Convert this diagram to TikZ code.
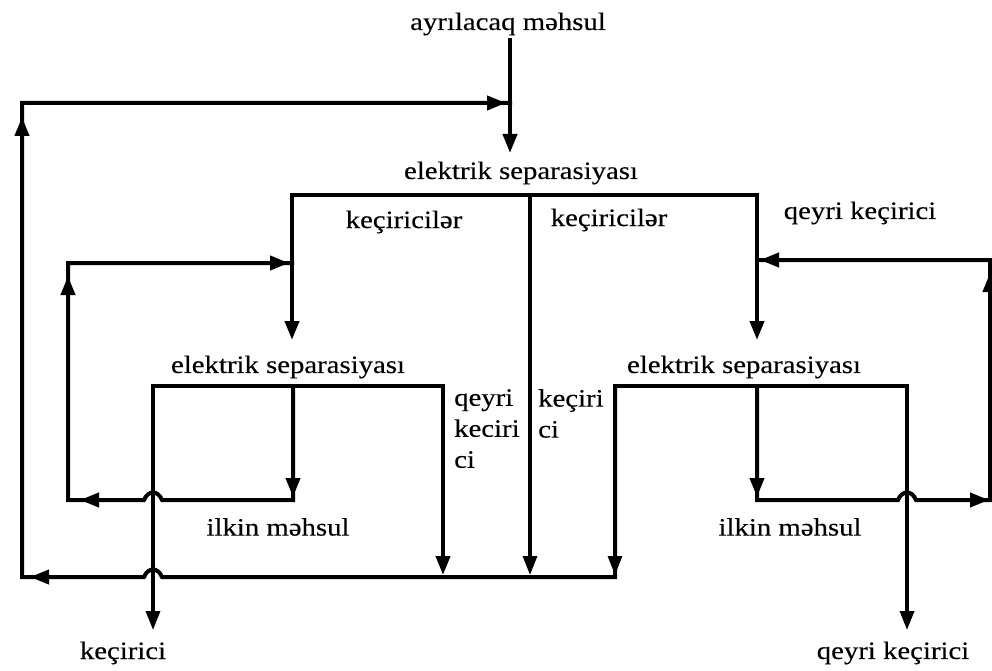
\documentclass[tikz,border=0pt]{standalone}
\usepackage{fontspec}
\setmainfont{Liberation Serif}[FakeStretch=1.15,FakeBold=0.25]
\usetikzlibrary{arrows.meta}

\begin{document}
\begin{tikzpicture}[x=1pt,y=-1pt,
  flow/.style={line width=4pt, line cap=rect, line join=miter},
  tip/.style={-{Triangle[length=19pt,width=14pt]}},
  lbl/.style={inner sep=0pt, font=\fontsize{25}{31}\selectfont},
]
\fill[white] (0,0) rectangle (992,671);
\useasboundingbox (0,0) rectangle (992,671);

% ---- text labels ----
\node[lbl] (feed) at (508,24) {ayrılacaq məhsul};
\node[lbl] (sepA) at (521,173) {elektrik separasiyası};
\node[lbl] (sepB) at (288,367) {elektrik separasiyası};
\node[lbl] (sepC) at (744,367) {elektrik separasiyası};
\node[lbl] (kA) at (404,222) {keçiricilər};
\node[lbl] (kB) at (609,220) {keçiricilər};
\node[lbl] (qA) at (860,213) {qeyri keçirici};
\node[lbl, align=left, anchor=north west] (qB) at (454,389) {qeyri\\keciri\\ci};
\node[lbl, align=left, anchor=north west] (kC) at (538,389) {keçiri\\ci};
\node[lbl] (pA) at (278,527) {ilkin məhsul};
\node[lbl] (pB) at (790,527) {ilkin məhsul};
\node[lbl] (oA) at (123,653) {keçirici};
\node[lbl] (oB) at (893,653) {qeyri keçirici};

% ---- junction points ----
\coordinate (f1) at (510,40);
\coordinate (f2) at (510,153);
\coordinate (aL) at (292,195);
\coordinate (aM) at (530,195);
\coordinate (aR) at (757,195);
\coordinate (bL) at (153,386);
\coordinate (bM) at (293,386);
\coordinate (bR) at (443,386);
\coordinate (cL) at (615,386);
\coordinate (cM) at (757,386);
\coordinate (cR) at (907,386);
\coordinate (oBR) at (615,577);
\coordinate (oBL) at (22,577);
\coordinate (oTL) at (22,103);
\coordinate (oTR) at (510,103);
\coordinate (lTop) at (292,263);
\coordinate (lTL) at (68,263);
\coordinate (lBL) at (68,500);
\coordinate (lBR) at (293,500);
\coordinate (rBL) at (757,500);
\coordinate (rBR) at (990,500);
\coordinate (rTR) at (990,260);
\coordinate (rTop) at (757,260);

% ---- feed ----
\draw[flow,tip] (f1) -- (f2);

% ---- first separator ----
\draw[flow] (aL) -- (aR);
\draw[flow,tip] (aL) -- (292,340);
\draw[flow,tip] (aR) -- (757,340);
\draw[flow,tip,line width=3.2pt] (aM) -- (530,575);

% ---- second separator (left) ----
\draw[flow] (bL) -- (bR);
\draw[flow,tip] (bR) -- (443,575);
\draw[flow,tip,line width=3.4pt] (bL) -- (153,630);
\draw[flow] (bM) -- (lBR) -- (162,500) .. controls (158,490) and (148,490) .. (144,500)
  -- (lBL) -- (lTL) -- (lTop);
\draw[flow,tip] (293,470) -- (293,497);
\draw[flow,tip] (112,500) -- (80,500);
\draw[flow,tip] (68,312) -- (68,276);
\draw[flow,tip] (250,263) -- (289,263);

% ---- third separator (right) ----
\draw[flow] (cL) -- (cR);
\draw[flow,tip,line width=3.4pt] (cR) -- (907,630);
\draw[flow] (cM) -- (rBL) -- (898,500) .. controls (902,490) and (912,490) .. (916,500)
  -- (rBR) -- (rTR) -- (rTop);
\draw[flow,tip] (757,470) -- (757,497);
\draw[flow,tip] (955,500) -- (989,500);
\draw[flow,tip] (990,312) -- (990,273);
\draw[flow,tip] (800,260) -- (760,260);

% ---- return line to the feed ----
\draw[flow] (cL) -- (oBR) -- (162,577) .. controls (158,567) and (148,567) .. (144,577)
  -- (oBL) -- (oTL) -- (oTR);
\draw[flow,tip,line width=3.2pt] (615,540) -- (615,575);
\draw[flow,tip] (62,577) -- (30,577);
\draw[flow,tip] (22,152) -- (22,117);
\draw[flow,tip] (470,103) -- (506,103);
\end{tikzpicture}
\end{document}
